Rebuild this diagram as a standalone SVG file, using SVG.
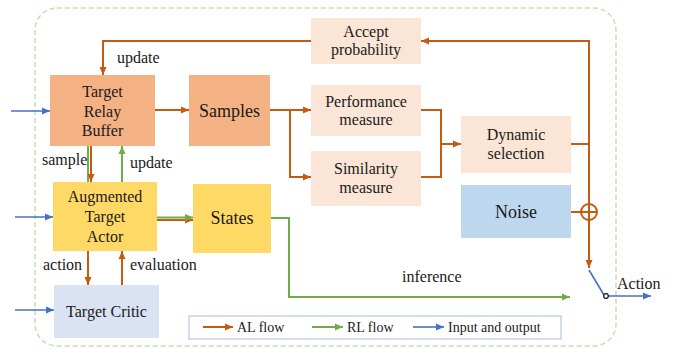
<svg xmlns="http://www.w3.org/2000/svg" width="673" height="349" viewBox="0 0 673 349">
<defs>
<marker id="ao" viewBox="0 0 8 8" refX="8" refY="4" markerWidth="8" markerHeight="8" markerUnits="userSpaceOnUse" orient="auto"><path d="M0,0.5 L8,4 L0,7.5 Z" fill="#C55A11"/></marker>
<marker id="ag" viewBox="0 0 8 8" refX="8" refY="4" markerWidth="8" markerHeight="8" markerUnits="userSpaceOnUse" orient="auto"><path d="M0,0.5 L8,4 L0,7.5 Z" fill="#70AD47"/></marker>
<marker id="ab" viewBox="0 0 8 8" refX="8" refY="4" markerWidth="8" markerHeight="8" markerUnits="userSpaceOnUse" orient="auto"><path d="M0,0.5 L8,4 L0,7.5 Z" fill="#4472C4"/></marker>
</defs>
<style>
text{font-family:"Liberation Serif","Times New Roman",serif;fill:#1a1a1a;font-size:16px}
.c{text-anchor:middle}
.big{font-size:18px}
.lg{font-size:14px}
.o{stroke:#C55A11;stroke-width:2;fill:none}
.g{stroke:#70AD47;stroke-width:2;fill:none}
.b{stroke:#4472C4;stroke-width:1.6;fill:none}
.peach{fill:#FBE5D6}
.sal{fill:#F4B183}
.yel{fill:#FFD966}
</style>
<rect x="35" y="8" width="581" height="338" rx="22" fill="none" stroke="#C5E0B4" stroke-width="1.5" stroke-dasharray="5,3"/>

<g id="connectors">
<!-- inputs -->
<line class="b" x1="11" y1="111" x2="50" y2="111" marker-end="url(#ab)"/>
<line class="b" x1="15" y1="217" x2="53" y2="217" marker-end="url(#ab)"/>
<line class="b" x1="15" y1="310" x2="54" y2="310" marker-end="url(#ab)"/>
<!-- TRB to Samples -->
<line class="o" x1="155" y1="110" x2="189" y2="110" marker-end="url(#ao)"/>
<!-- Samples split -->
<polyline class="o" points="270,110 311,110" marker-end="url(#ao)"/>
<polyline class="o" points="290,110 290,177 311,177" marker-end="url(#ao)"/>
<!-- measures to dynamic -->
<polyline class="o" points="421,110 441,110 441,177 421,177"/>
<line class="o" x1="441" y1="144" x2="461" y2="144" marker-end="url(#ao)"/>
<!-- dynamic to right column -->
<polyline class="o" points="571,144 589,144"/>
<polyline class="o" points="589,268 589,41 421,41" marker-end="url(#ao)"/>
<line class="o" x1="589" y1="200" x2="589" y2="268" marker-end="url(#ao)"/>
<!-- accept to TRB -->
<polyline class="o" points="311,41 103,41 103,75" marker-end="url(#ao)"/>
<!-- noise to sum -->
<line class="o" x1="571" y1="212" x2="581" y2="212"/>
<circle cx="589" cy="212" r="8" fill="#fff" stroke="#C55A11" stroke-width="2"/>
<line class="o" x1="581" y1="212" x2="597" y2="212"/>
<line class="o" x1="589" y1="204" x2="589" y2="220"/>
<!-- switch -->
<line class="b" x1="589" y1="270" x2="604" y2="295"/>
<line class="b" x1="608" y1="296" x2="651" y2="296" marker-end="url(#ab)"/>
<circle cx="606" cy="296" r="2.3" fill="#fff" stroke="#1a1a1a" stroke-width="1.2"/>
<!-- sample / update between TRB and ATA -->
<line class="g" x1="88" y1="146" x2="88" y2="182"/>
<line class="o" x1="91" y1="146" x2="91" y2="182" marker-end="url(#ao)"/>
<line class="g" x1="122" y1="182" x2="122" y2="146" marker-end="url(#ag)"/>
<!-- ATA to States -->
<line class="o" x1="157" y1="220" x2="193" y2="220" marker-end="url(#ao)"/>
<line class="g" x1="157" y1="217.5" x2="193" y2="217.5" marker-end="url(#ag)"/>
<!-- ATA / TC -->
<line class="o" x1="88" y1="251" x2="88" y2="285" marker-end="url(#ao)"/>
<line class="o" x1="122" y1="285" x2="122" y2="251" marker-end="url(#ao)"/>
<!-- inference -->
<polyline class="g" points="271,218 289,218 289,297 570,297" marker-end="url(#ag)"/>
</g>

<g id="target-relay-buffer"><rect class="sal" x="50" y="75" width="105" height="71"/>
<text class="c" x="102.5" y="97">Target</text><text class="c" x="102.5" y="117">Relay</text><text class="c" x="102.5" y="136">Buffer</text></g>
<g id="samples"><rect class="sal" x="189" y="75" width="81" height="71"/><text class="c big" x="229.5" y="117">Samples</text></g>
<g id="accept-probability"><rect class="peach" x="311" y="18" width="110" height="46"/>
<text class="c" x="366" y="37">Accept</text><text class="c" x="366" y="55">probability</text></g>
<g id="performance-measure"><rect class="peach" x="311" y="85" width="110" height="51"/>
<text class="c" x="366" y="107">Performance</text><text class="c" x="366" y="125">measure</text></g>
<g id="similarity-measure"><rect class="peach" x="311" y="151" width="110" height="55"/>
<text class="c" x="366" y="174">Similarity</text><text class="c" x="366" y="193">measure</text></g>
<g id="dynamic-selection"><rect class="peach" x="461" y="116" width="110" height="57"/>
<text class="c" x="516" y="140">Dynamic</text><text class="c" x="516" y="159">selection</text></g>
<g id="noise"><rect x="461" y="185" width="110" height="53" fill="#BDD7EE"/><text class="c big" x="516" y="218">Noise</text></g>
<g id="augmented-target-actor"><rect class="yel" x="53" y="182" width="104" height="69"/>
<text class="c" x="105" y="202">Augmented</text><text class="c" x="105" y="222">Target</text><text class="c" x="105" y="242">Actor</text></g>
<g id="states"><rect class="yel" x="193" y="184" width="78" height="69"/><text class="c big" x="232" y="224">States</text></g>
<g id="target-critic"><rect x="54" y="285" width="105" height="53" fill="#DAE3F3"/><text class="c" x="106.5" y="317">Target Critic</text></g>

<g id="labels">
<text x="117" y="63">update</text>
<text x="42" y="165">sample</text>
<text x="130" y="168">update</text>
<text x="43" y="270">action</text>
<text x="130" y="270">evaluation</text>
<text x="402" y="282">inference</text>
<text x="617" y="289">Action</text>
</g>

<g id="legend">
<rect x="189" y="316" width="372" height="23" fill="#fff" stroke="#B4C7E7" stroke-width="1.2"/>
<line class="o" x1="203" y1="327" x2="233" y2="327" stroke-width="1.6" marker-end="url(#ao)"/>
<text class="lg" x="237" y="332">AL flow</text>
<line class="g" x1="312" y1="327" x2="343" y2="327" stroke-width="1.6" marker-end="url(#ag)"/>
<text class="lg" x="347" y="332">RL flow</text>
<line class="b" x1="413" y1="327" x2="444" y2="327" marker-end="url(#ab)"/>
<text class="lg" x="448" y="332">Input and output</text>
</g>
</svg>
